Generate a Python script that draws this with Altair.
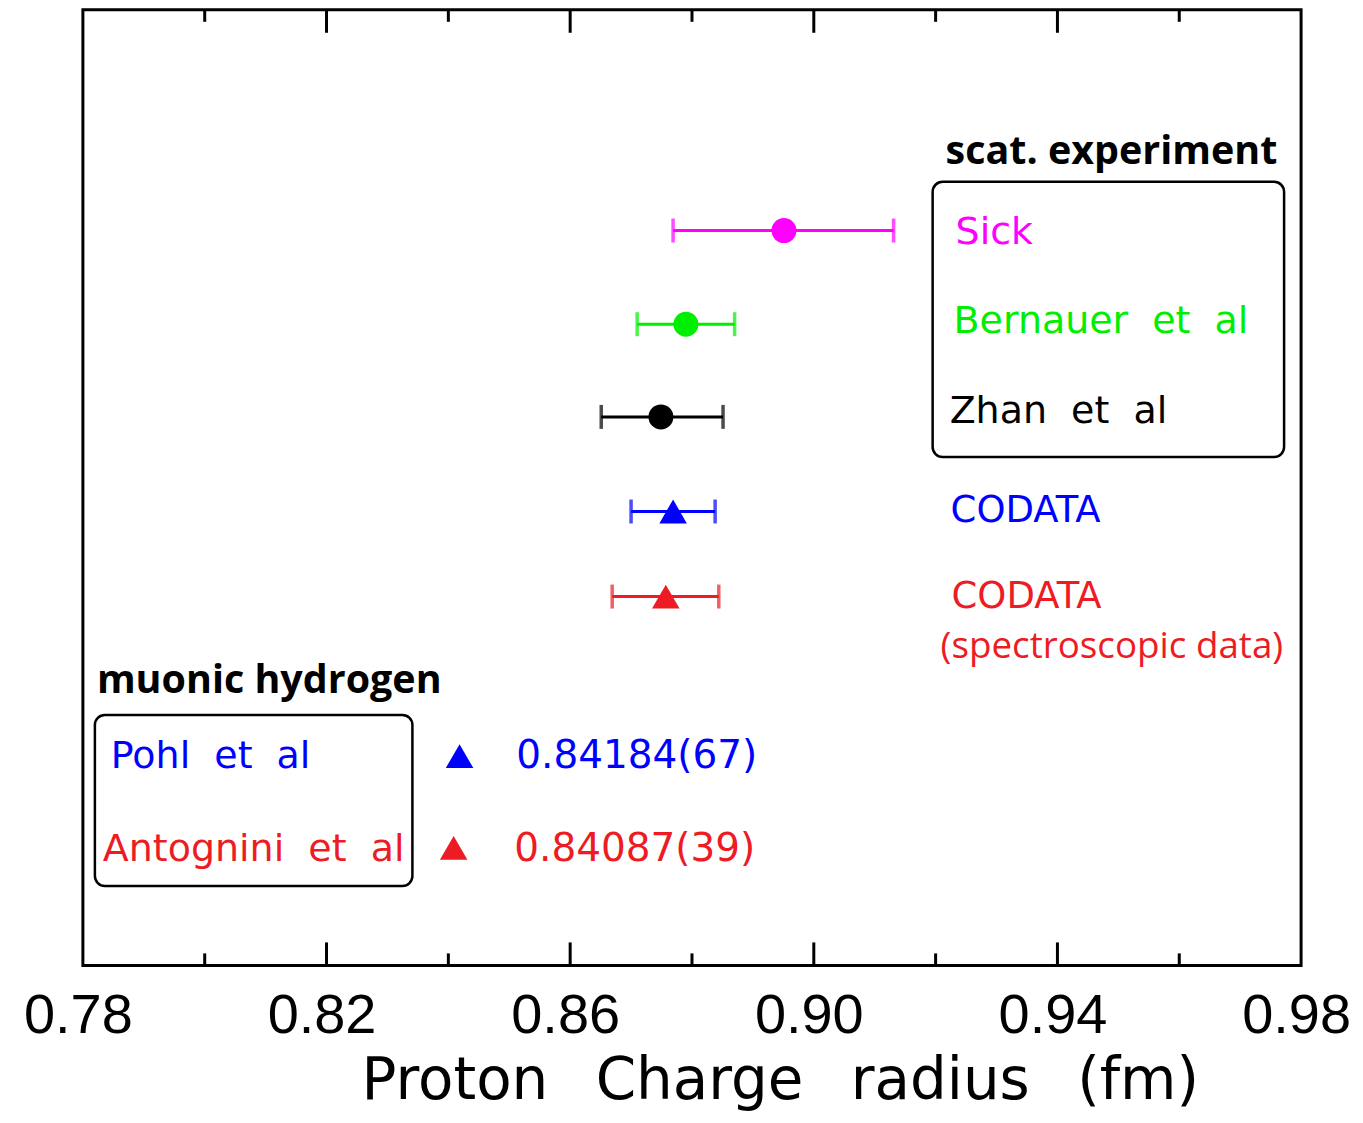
import altair as alt
import pandas as pd

NB = "\u00a0\u00a0"
GAP = "\u2002\u00a0"

# ---- scattering experiments (circles with error bars) ----
scat_labels = ["Sick", f"Bernauer{NB}et{NB}al", f"Zhan{NB}et{NB}al"]
scat_colors = ["#FF00FF", "#00EE00", "#000000"]
scat_radius = [0.8951, 0.8790, 0.8749]
scat_low = [0.8769, 0.8710, 0.8651]
scat_high = [0.9131, 0.8870, 0.8851]
scat_row = [7.69, 6.71, 5.74]
scat_label_row = [7.55, 6.62, 5.68]

# ---- CODATA (triangles with error bars) ----
codata_labels = ["CODATA", "CODATA"]
codata_colors = ["#0000FF", "#ED1C24"]
codata_radius = [0.8769, 0.8757]
codata_low = [0.8700, 0.8669]
codata_high = [0.8838, 0.8844]
codata_row = [4.75, 3.86]
codata_label_row = [4.64, 3.74]

# ---- muonic hydrogen ----
muonic_labels = [f"Pohl{NB}et{NB}al", f"Antognini{NB}et{NB}al"]
muonic_values = ["0.84184(67)", "0.84087(39)"]
muonic_colors = ["#0000FF", "#ED1C24"]
muonic_radius = [0.84184, 0.84087]
muonic_row = [2.19, 1.23]
muonic_label_row = [2.07, 1.09]

# ---- axis ----
x_labels = [0.78, 0.82, 0.86, 0.90, 0.94, 0.98]
x_major = [0.82, 0.86, 0.90, 0.94]
x_minor = [0.80, 0.84, 0.88, 0.92, 0.96]

# ---- annotation anchors (data coordinates) ----
legend_x = [0.92328, 0.92295, 0.92230]
codata_x = [0.92246, 0.92262]
muonic_label_x = [0.78459, 0.78328]
muonic_value_x = [0.85115, 0.85082]
headers = ["scat. experiment", "muonic hydrogen"]
header_x = [0.92164, 0.78230]
header_row = [8.39, 2.85]
note_text = ["(spectroscopic data)"]
note_x = [0.92082]
note_row = [3.22]
box_x = [0.91951, 0.78197]
box_x2 = [0.97721, 0.83410]
box_y = [8.20, 2.62]
box_y2 = [5.32, 0.83]

xscale = alt.Scale(domain=[0.78, 0.98], nice=False, zero=False)
yscale = alt.Scale(domain=[0, 10], nice=False, zero=False)
xaxis = alt.Axis(
    values=x_labels, format=".2f", ticks=False, tickSize=0, domain=False, grid=False,
    labelFont="Liberation Sans", labelFontSize=56, labelColor="black",
    labelBaseline="alphabetic", labelPadding=67, labelOffset=-5,
    labelFlush=False, labelOverlap=False,
    title=f"Proton{GAP}Charge{GAP}radius{GAP}(fm)", titleFont="DejaVu Sans",
    titleFontSize=58, titleFontWeight="normal", titleColor="black",
    titleX=698, titleY=133, titleBaseline="alphabetic", titleAlign="center",
)
X = alt.X("x:Q", scale=xscale, axis=xaxis)
Y = alt.Y("y:Q", scale=yscale, axis=None)
C = alt.Color("c:N", scale=None)

bars = pd.DataFrame({
    "x": scat_low + codata_low,
    "x2": scat_high + codata_high,
    "y": scat_row + codata_row,
    "c": scat_colors + codata_colors,
})
caps = pd.DataFrame({
    "x": scat_low + codata_low + scat_high + codata_high,
    "y": (scat_row + codata_row) * 2,
    "c": (scat_colors + codata_colors) * 2,
})
circles = pd.DataFrame({"x": scat_radius, "y": scat_row, "c": scat_colors})
triangles = pd.DataFrame({
    "x": codata_radius + muonic_radius,
    "y": codata_row + muonic_row,
    "c": codata_colors + muonic_colors,
})
labels = pd.DataFrame({
    "x": legend_x + muonic_label_x,
    "y": scat_label_row + muonic_label_row,
    "t": scat_labels + muonic_labels,
    "c": scat_colors + muonic_colors,
})
values_df = pd.DataFrame({"x": muonic_value_x, "y": muonic_label_row, "t": muonic_values, "c": muonic_colors})
codata_text = pd.DataFrame({"x": codata_x, "y": codata_label_row, "t": codata_labels, "c": codata_colors})
note_df = pd.DataFrame({"x": note_x, "y": note_row, "t": note_text})
header_df = pd.DataFrame({"x": header_x, "y": header_row, "t": headers})
boxes = pd.DataFrame({"x": box_x, "x2": box_x2, "y": box_y, "y2": box_y2})
major_df = pd.DataFrame({"x": x_major})
minor_df = pd.DataFrame({"x": x_minor})

H = 957

layers = [
    alt.Chart(major_df).mark_rule(color="black", strokeWidth=3).encode(x=X, y=alt.value(0), y2=alt.value(23)),
    alt.Chart(major_df).mark_rule(color="black", strokeWidth=3).encode(x=X, y=alt.value(H), y2=alt.value(H - 23)),
    alt.Chart(minor_df).mark_rule(color="black", strokeWidth=3).encode(x=X, y=alt.value(0), y2=alt.value(12)),
    alt.Chart(minor_df).mark_rule(color="black", strokeWidth=3).encode(x=X, y=alt.value(H), y2=alt.value(H - 12)),
    alt.Chart(boxes).mark_rect(fill="transparent", stroke="black", strokeWidth=2.5, cornerRadius=10).encode(
        x=X, x2="x2:Q", y=Y, y2="y2:Q"),
    alt.Chart(bars).mark_rule(strokeWidth=3).encode(x=X, x2="x2:Q", y=Y, color=C),
    alt.Chart(caps).mark_tick(orient="vertical", thickness=3.5, size=24).encode(x=X, y=Y, color=C),
    alt.Chart(circles).mark_point(filled=True, shape="circle", size=625, opacity=1).encode(x=X, y=Y, color=C),
    alt.Chart(triangles).mark_point(filled=True, shape="triangle-up", size=760, opacity=1).encode(x=X, y=Y, color=C),
    alt.Chart(labels).mark_text(align="left", baseline="alphabetic", font="DejaVu Sans", fontSize=38).encode(
        x=X, y=Y, text="t:N", color=C),
    alt.Chart(values_df).mark_text(align="left", baseline="alphabetic", font="DejaVu Sans", fontSize=39).encode(
        x=X, y=Y, text="t:N", color=C),
    alt.Chart(codata_text).mark_text(align="left", baseline="alphabetic", font="DejaVu Sans", fontSize=37).encode(
        x=X, y=Y, text="t:N", color=C),
    alt.Chart(note_df).mark_text(align="left", baseline="alphabetic", font="Open Sans", fontSize=36.8,
                                 color="#ED1C24").encode(x=X, y=Y, text="t:N"),
    alt.Chart(header_df).mark_text(align="left", baseline="alphabetic", font="Open Sans", fontSize=39.5,
                                   fontWeight="bold", color="black").encode(x=X, y=Y, text="t:N"),
]

chart = alt.layer(*layers).properties(
    width=1220, height=H,
    autosize=alt.AutoSizeParams(type="none"),
    padding={"left": 75, "top": 1, "right": 54, "bottom": 147},
    background="white",
).configure_view(stroke="black", strokeWidth=3)

chart.save("out.html", embed_options={"renderer": "svg", "actions": False})
